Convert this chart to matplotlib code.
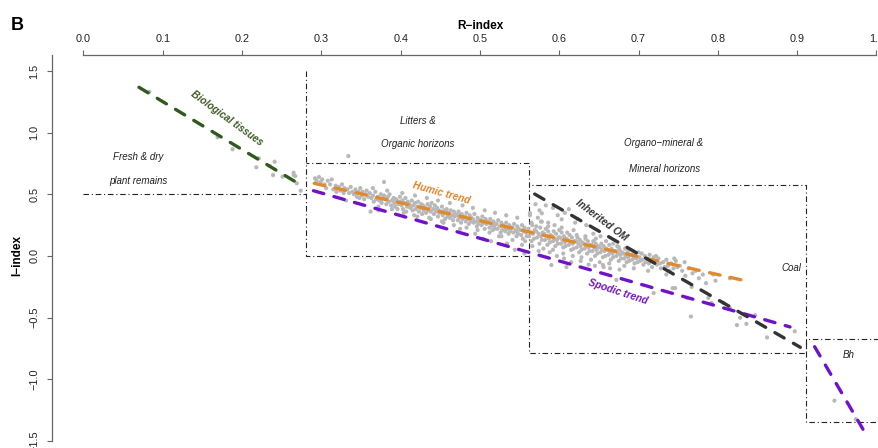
import numpy as np
import matplotlib.pyplot as plt

plt.rcParams['font.family'] = ['Liberation Sans', 'DejaVu Sans']

# --- trend lines (R-index, I-index end points)
bio_x, bio_y = [0.070, 0.272], [1.367, 0.583]
humic_x, humic_y = [0.291, 0.834], [0.589, -0.200]
spodic_x, spodic_y = [0.290, 0.891], [0.529, -0.575]
inher_x, inher_y = [0.569, 0.904], [0.502, -0.740]
bh_x, bh_y = [0.922, 0.983], [-0.735, -1.404]

# --- domain boundaries
fresh_x, fresh_y = [0.0, 0.281], [0.50, 0.50]
litter_x = [0.281, 0.281, 0.562, 0.562, 0.281]
litter_y = [1.50, 0.0, 0.0, 0.751, 0.751]
mineral_x = [0.562, 0.562, 0.911, 0.911, 0.562]
mineral_y = [0.0, -0.786, -0.786, 0.575, 0.575]
bhbox_x = [1.10, 0.911, 0.911, 1.10]
bhbox_y = [-0.673, -0.673, -1.348, -1.348]

# --- samples
plant_pts = [(0.083, 1.331), (0.169, 0.962), (0.188, 0.865), (0.218, 0.719),
             (0.221, 0.792), (0.235, 0.729), (0.241, 0.764), (0.239, 0.656),
             (0.251, 0.643), (0.265, 0.656), (0.269, 0.589), (0.274, 0.529),
             (0.265, 0.675), (0.267, 0.648)]

litter_pts = [
    (0.334, 0.81), (0.379, 0.60),
    (0.292, 0.63), (0.294, 0.61), (0.297, 0.64), (0.299, 0.60),
    (0.301, 0.62), (0.304, 0.58), (0.306, 0.55), (0.308, 0.61),
    (0.311, 0.58), (0.313, 0.62), (0.315, 0.54), (0.318, 0.57), (0.319, 0.52),
    (0.322, 0.56), (0.324, 0.53), (0.326, 0.58), (0.328, 0.51), (0.329, 0.55),
    (0.331, 0.45), (0.333, 0.54), (0.335, 0.51), (0.337, 0.56), (0.339, 0.52),
    (0.341, 0.50), (0.343, 0.54), (0.345, 0.48), (0.347, 0.52), (0.349, 0.55), (0.348, 0.47),
    (0.351, 0.49), (0.352, 0.52), (0.354, 0.46), (0.356, 0.50), (0.357, 0.53), (0.359, 0.48),
    (0.361, 0.51), (0.362, 0.36), (0.363, 0.47), (0.365, 0.49), (0.366, 0.44), (0.368, 0.52), (0.369, 0.46),
    (0.371, 0.48), (0.372, 0.37), (0.373, 0.45), (0.375, 0.50), (0.376, 0.43), (0.378, 0.47), (0.379, 0.49),
    (0.381, 0.46), (0.382, 0.42), (0.384, 0.48), (0.385, 0.44), (0.386, 0.50), (0.388, 0.41), (0.389, 0.45),
    (0.391, 0.47), (0.392, 0.43), (0.393, 0.40), (0.395, 0.45), (0.396, 0.38), (0.398, 0.44), (0.399, 0.48), (0.397, 0.42),
    (0.401, 0.41), (0.402, 0.45), (0.403, 0.38), (0.405, 0.43), (0.406, 0.47), (0.408, 0.40), (0.409, 0.44), (0.407, 0.36),
    (0.411, 0.42), (0.412, 0.39), (0.414, 0.45), (0.415, 0.37), (0.416, 0.41), (0.418, 0.43), (0.419, 0.38), (0.417, 0.33),
    (0.421, 0.40), (0.422, 0.44), (0.423, 0.36), (0.425, 0.39), (0.426, 0.42), (0.427, 0.34), (0.428, 0.41), (0.429, 0.37),
    (0.431, 0.39), (0.432, 0.35), (0.434, 0.42), (0.435, 0.37), (0.436, 0.31), (0.437, 0.40), (0.438, 0.36), (0.439, 0.43),
    (0.441, 0.38), (0.442, 0.34), (0.443, 0.41), (0.445, 0.36), (0.446, 0.39), (0.447, 0.32), (0.448, 0.37), (0.449, 0.35),
    (0.451, 0.36), (0.452, 0.40), (0.453, 0.33), (0.455, 0.37), (0.456, 0.30), (0.457, 0.35), (0.458, 0.38), (0.459, 0.32), (0.454, 0.27),
    (0.461, 0.35), (0.462, 0.31), (0.463, 0.37), (0.465, 0.33), (0.466, 0.29), (0.467, 0.36), (0.468, 0.32), (0.469, 0.34),
    (0.471, 0.33), (0.472, 0.29), (0.473, 0.36), (0.474, 0.31), (0.476, 0.27), (0.477, 0.34), (0.478, 0.30), (0.479, 0.32), (0.475, 0.22),
    (0.481, 0.32), (0.482, 0.28), (0.483, 0.35), (0.485, 0.30), (0.486, 0.26), (0.487, 0.33), (0.488, 0.29), (0.489, 0.31),
    (0.491, 0.30), (0.492, 0.27), (0.493, 0.34), (0.495, 0.28), (0.496, 0.24), (0.497, 0.31), (0.498, 0.26), (0.499, 0.29), (0.494, 0.18),
    (0.501, 0.29), (0.502, 0.25), (0.503, 0.32), (0.505, 0.27), (0.506, 0.22), (0.507, 0.30), (0.508, 0.26), (0.509, 0.28), (0.504, 0.14),
    (0.511, 0.27), (0.512, 0.23), (0.513, 0.30), (0.515, 0.25), (0.516, 0.21), (0.517, 0.28), (0.518, 0.24), (0.519, 0.26), (0.514, 0.12),
    (0.521, 0.26), (0.522, 0.22), (0.523, 0.29), (0.525, 0.24), (0.526, 0.19), (0.527, 0.27), (0.528, 0.21), (0.529, 0.25), (0.524, 0.16),
    (0.531, 0.24), (0.532, 0.20), (0.533, 0.27), (0.535, 0.22), (0.536, 0.18), (0.537, 0.25), (0.538, 0.20), (0.539, 0.23), (0.534, 0.10),
    (0.541, 0.23), (0.542, 0.19), (0.543, 0.26), (0.545, 0.21), (0.546, 0.16), (0.547, 0.24), (0.548, 0.18), (0.549, 0.22), (0.544, 0.05),
    (0.551, 0.21), (0.552, 0.17), (0.553, 0.25), (0.554, 0.14), (0.555, 0.20), (0.556, 0.23), (0.557, 0.12), (0.558, 0.19), (0.559, 0.16), (0.556, 0.02),
    # upper fringe
    (0.365, 0.55), (0.383, 0.53), (0.402, 0.51), (0.418, 0.49), (0.433, 0.47), (0.447, 0.45),
    (0.462, 0.43), (0.478, 0.41), (0.491, 0.39), (0.506, 0.37), (0.519, 0.35), (0.533, 0.33), (0.547, 0.31),
    # lower fringe
    (0.372, 0.40), (0.389, 0.38), (0.404, 0.35), (0.421, 0.32), (0.438, 0.30), (0.452, 0.28),
    (0.467, 0.25), (0.483, 0.23), (0.497, 0.21), (0.512, 0.19), (0.527, 0.16), (0.541, 0.13), (0.553, 0.09),
    # middle
    (0.376, 0.46), (0.394, 0.46), (0.413, 0.40), (0.429, 0.40), (0.444, 0.37), (0.459, 0.35),
    (0.474, 0.33), (0.489, 0.28), (0.503, 0.28), (0.518, 0.22), (0.532, 0.22), (0.546, 0.20),
]

mineral_pts = [
    (0.563, 0.348), (0.578, 0.346), (0.592, 0.39), (0.603, 0.297), (0.578, 0.278),
    (0.570, 0.42), (0.575, 0.37), (0.598, 0.33), (0.607, 0.35), (0.620, 0.27),
    (0.561, 0.22), (0.562, 0.16), (0.563, 0.33), (0.564, 0.19), (0.565, 0.12), (0.566, 0.25), (0.567, 0.18), (0.568, 0.14), (0.569, 0.21), (0.566, 0.08),
    (0.571, 0.20), (0.572, 0.15), (0.573, 0.31), (0.574, 0.18), (0.575, 0.10), (0.576, 0.23), (0.577, 0.16), (0.578, 0.13), (0.579, 0.19), (0.574, 0.04), (0.577, 0.28),
    (0.581, 0.18), (0.582, 0.13), (0.583, 0.22), (0.584, 0.16), (0.585, 0.09), (0.586, 0.20), (0.587, 0.14), (0.588, 0.11), (0.589, 0.17), (0.583, 0.41), (0.586, 0.27), (0.588, 0.03),
    (0.591, 0.16), (0.592, 0.12), (0.593, 0.20), (0.594, 0.14), (0.595, 0.08), (0.596, 0.18), (0.597, 0.13), (0.598, 0.10), (0.599, 0.15), (0.594, 0.25), (0.597, 0.00), (0.590, -0.073),
    (0.601, 0.15), (0.602, 0.10), (0.603, 0.19), (0.604, 0.13), (0.605, 0.07), (0.606, 0.16), (0.607, 0.11), (0.608, 0.08), (0.609, 0.14), (0.603, 0.23), (0.606, -0.02), (0.609, -0.09),
    (0.611, 0.13), (0.612, 0.09), (0.613, 0.17), (0.614, 0.11), (0.615, 0.05), (0.616, 0.15), (0.617, 0.10), (0.618, 0.06), (0.619, 0.12), (0.612, 0.38), (0.615, -0.05), (0.618, 0.21),
    (0.621, 0.12), (0.622, 0.07), (0.623, 0.15), (0.624, 0.10), (0.625, 0.03), (0.626, 0.13), (0.627, 0.08), (0.628, 0.05), (0.629, 0.11), (0.623, 0.30), (0.627, -0.04),
    (0.631, 0.10), (0.632, 0.06), (0.633, 0.14), (0.634, 0.08), (0.635, 0.02), (0.636, 0.12), (0.637, 0.07), (0.638, 0.04), (0.639, 0.09), (0.634, 0.25), (0.637, -0.07),
    (0.641, 0.09), (0.642, 0.04), (0.643, 0.12), (0.644, 0.07), (0.645, 0.00), (0.646, 0.10), (0.647, 0.05), (0.648, 0.02), (0.649, 0.08), (0.645, -0.08), (0.643, 0.18),
    (0.651, 0.07), (0.652, 0.03), (0.653, 0.10), (0.654, 0.05), (0.655, -0.01), (0.656, 0.08), (0.657, 0.04), (0.658, 0.00), (0.659, 0.06), (0.656, -0.09), (0.652, 0.16), (0.655, -0.073),
    (0.661, 0.05), (0.662, 0.01), (0.663, 0.09), (0.664, 0.03), (0.665, -0.03), (0.666, 0.06), (0.667, 0.02), (0.668, -0.01), (0.669, 0.04), (0.664, -0.10),
    (0.671, 0.04), (0.672, 0.00), (0.673, 0.08), (0.674, 0.02), (0.675, -0.04), (0.676, 0.05), (0.677, 0.01), (0.678, -0.02), (0.679, 0.03), (0.676, -0.11), (0.672, -0.194),
    (0.681, 0.02), (0.682, -0.02), (0.683, 0.06), (0.684, 0.00), (0.685, -0.05), (0.686, 0.03), (0.687, -0.01), (0.688, -0.04), (0.689, 0.01),
    (0.691, 0.01), (0.692, -0.03), (0.693, 0.04), (0.694, -0.01), (0.695, -0.06), (0.696, 0.02), (0.697, -0.02), (0.699, -0.05),
    (0.701, -0.01), (0.702, -0.04), (0.704, 0.02), (0.705, -0.03), (0.706, -0.07), (0.708, 0.00), (0.709, -0.05),
    (0.711, -0.02), (0.713, -0.06), (0.714, 0.01), (0.716, -0.04), (0.717, -0.09), (0.719, -0.01), (0.719, -0.30),
    (0.721, -0.04), (0.723, -0.07), (0.725, -0.02), (0.727, -0.06), (0.728, -0.10),
    (0.731, -0.05), (0.733, -0.09), (0.735, -0.03), (0.737, -0.08), (0.739, -0.12),
    (0.741, -0.06), (0.744, -0.10), (0.746, -0.26), (0.747, -0.04), (0.749, -0.09), (0.743, -0.26),
    (0.752, -0.08), (0.755, -0.12), (0.758, -0.05), (0.759, -0.16),
    (0.761, -0.34), (0.763, -0.10), (0.766, -0.49), (0.767, -0.25), (0.768, -0.14),
    (0.772, -0.12), (0.776, -0.18), (0.781, -0.15), (0.785, -0.22), (0.788, -0.34),
    (0.792, -0.38), (0.794, -0.15), (0.797, -0.20),
    (0.807, -0.38), (0.815, -0.42), (0.815, -0.18), (0.824, -0.56), (0.828, -0.50),
    (0.836, -0.55), (0.847, -0.48), (0.862, -0.66), (0.897, -0.61),
    # wider spread of the mineral cloud
    (0.565, 0.27), (0.571, 0.24), (0.580, 0.06), (0.586, 0.24), (0.592, 0.05), (0.600, 0.21),
    (0.605, 0.02), (0.610, 0.19), (0.617, 0.00), (0.622, 0.17), (0.628, -0.01), (0.633, 0.16),
    (0.640, -0.03), (0.646, 0.14), (0.651, -0.05), (0.659, 0.12), (0.663, -0.06), (0.668, 0.10),
    (0.675, 0.07), (0.682, -0.08), (0.688, 0.05), (0.694, -0.10), (0.700, 0.03), (0.712, -0.12),
    (0.722, 0.00), (0.735, -0.15), (0.745, -0.02),
]

bh_pts = [(0.947, -1.172), (0.974, -1.323)]

# --- figure: 879x448 px, axes spread over the whole canvas
fig = plt.figure(figsize=(8.79, 4.48), dpi=100)
ax = fig.add_axes([0, 0, 1, 1])
ax.set_xlim(-0.1053, 1.0032)
ax.set_ylim(-1.556, 2.0746)

for pts in (plant_pts, litter_pts, mineral_pts, bh_pts):
    px, py = zip(*pts)
    ax.scatter(px, py, s=9, color='#b8b8b8', edgecolors='none', zorder=2)

dd = (0, (5, 2.5, 1, 2.5))
for bx, by in ((fresh_x, fresh_y), (litter_x, litter_y),
               (mineral_x, mineral_y), (bhbox_x, bhbox_y)):
    ax.plot(bx, by, color='#222222', lw=0.8, ls=dd, zorder=1)

trend_dash = (0, (3.2, 3.2))
for tx, ty, col in ((bio_x, bio_y, '#2f5a1e'), (humic_x, humic_y, '#e08a2c'),
                    (spodic_x, spodic_y, '#7012c8'), (inher_x, inher_y, '#333333'),
                    (bh_x, bh_y, '#7012c8')):
    ax.plot(tx, ty, color=col, lw=2.4, ls=trend_dash, dash_capstyle='round', zorder=3)

# --- axes as in R: top and left only
for s in ('right', 'bottom'):
    ax.spines[s].set_visible(False)
ax.spines['top'].set_position(('data', 1.629))
ax.spines['top'].set_bounds(0, 1)
ax.spines['left'].set_position(('data', -0.04))
ax.spines['left'].set_bounds(-1.5, 1.63)
for s in ('top', 'left'):
    ax.spines[s].set_color('#666666')
    ax.spines[s].set_linewidth(0.9)
ax.xaxis.tick_top()
ax.set_xticks(np.arange(0, 1.01, 0.1))
ax.set_xticklabels(['0.0', '0.1', '0.2', '0.3', '0.4', '0.5', '0.6', '0.7', '0.8', '0.9', '1.0'])
ax.set_yticks([-1.5, -1.0, -0.5, 0.0, 0.5, 1.0, 1.5])
ax.set_yticklabels(['\u22121.5', '\u22121.0', '\u22120.5', '0.0', '0.5', '1.0', '1.5'],
                   rotation=90, va='center')
ax.tick_params(axis='both', direction='out', length=3.6, width=0.8, color='#666666',
               labelsize=7.8, labelcolor='#222222', pad=4.5)
ax.tick_params(axis='y', pad=5.5)

ax.text(0.5, 1.86, 'R\u2212index', ha='center', va='center', fontsize=8.5, fontweight='bold')
ax.text(-0.084, 0.0, 'I\u2212index', ha='center', va='center', rotation=90,
        fontsize=8.5, fontweight='bold')
ax.text(-0.084, 1.87, 'B', ha='center', va='center', fontsize=13, fontweight='bold')

# --- domain names
lab = dict(ha='center', va='center', fontsize=7, style='italic', color='#222222')
ax.text(0.0687, 0.802, 'Fresh & dry', **lab)
ax.text(0.0687, 0.608, 'plant remains', **lab)
ax.text(0.4218, 1.094, 'Litters &', **lab)
ax.text(0.4218, 0.908, 'Organic horizons', **lab)
ax.text(0.731, 0.915, 'Organo\u2212mineral &', **lab)
ax.text(0.733, 0.703, 'Mineral horizons', **lab)
ax.text(0.893, -0.10, 'Coal', **lab)
ax.text(0.9645, -0.80, 'Bh', **lab)

# --- trend names
tl = dict(ha='center', va='center', fontsize=7.3, style='italic', fontweight='bold',
          rotation_mode='anchor')
ax.text(0.1806, 1.116, 'Biological tissues', color='#3d5a22', rotation=-36, **tl)
ax.text(0.4517, 0.508, 'Humic trend', color='#e0832a', rotation=-15.5, **tl)
ax.text(0.6535, 0.292, 'Inherited OM', color='#333333', rotation=-37, **tl)
ax.text(0.674, -0.289, 'Spodic trend', color='#7012c8', rotation=-18, **tl)

fig.savefig('out.png', dpi=100)
